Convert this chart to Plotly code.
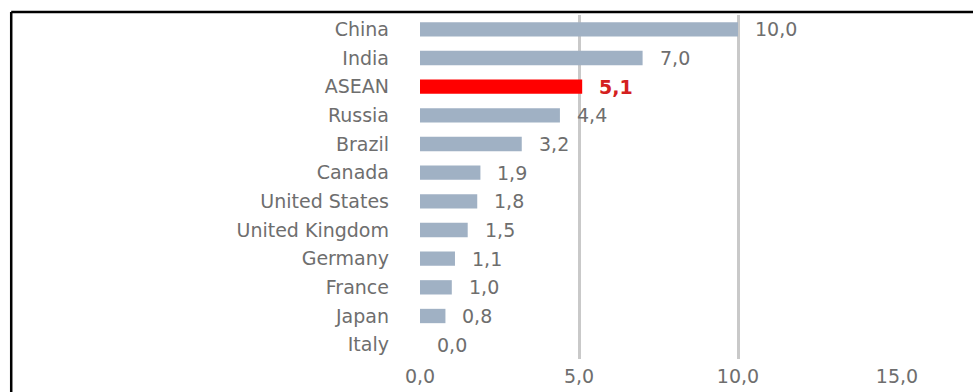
import plotly.graph_objects as go

# Growth by economy (values shown with decimal comma)
countries = ["China", "India", "ASEAN", "Russia", "Brazil", "Canada",
             "United States", "United Kingdom", "Germany", "France", "Japan", "Italy"]
values = [10.0, 7.0, 5.1, 4.4, 3.2, 1.9, 1.8, 1.5, 1.1, 1.0, 0.8, 0.0]
highlight = "ASEAN"
x_ticks = [0, 5, 10, 15]

BAR = "#a0b1c4"
RED = "#ff0000"
TEXT = "#6e6e6e"
GRID = "#c9c9c9"
FONT = "DejaVu Sans"
FS = 19

colors = [RED if c == highlight else BAR for c in countries]

fig = go.Figure(go.Bar(
    x=values, y=countries, orientation="h",
    marker=dict(color=colors, line=dict(width=0)),
    width=0.5, hoverinfo="skip",
))

def fmt(v):
    return f"{v:.1f}".replace(".", ",")

for c, v in zip(countries, values):
    hot = c == highlight
    fig.add_annotation(
        x=v, y=c, xref="x", yref="y", text=fmt(v), showarrow=False,
        xanchor="left", yanchor="middle", xshift=15,
        font=dict(family=FONT, size=FS, color="#d42020" if hot else TEXT,
                  weight="bold" if hot else "normal"),
    )

# Outer frame (top and left edges visible)
fig.add_shape(type="line", xref="paper", yref="paper",
              x0=-0.857, x1=1.2, y0=1.0087, y1=1.0087,
              line=dict(color="black", width=2.5))
fig.add_shape(type="line", xref="paper", yref="paper",
              x0=-0.857, x1=-0.857, y0=1.0087, y1=-0.2,
              line=dict(color="black", width=2.5))

fig.update_layout(
    width=973, height=392,
    margin=dict(l=420, r=76, t=15, b=33, autoexpand=False),
    paper_bgcolor="white", plot_bgcolor="white",
    showlegend=False, separators=",.",
    font=dict(family=FONT, size=FS, color=TEXT),
    xaxis=dict(range=[0, 15], tickvals=x_ticks, tickformat=".1f",
               showgrid=True, gridcolor=GRID, gridwidth=2.5,
               zeroline=False, showline=False, ticks="",
               ticklabelstandoff=4, automargin=False, fixedrange=True),
    yaxis=dict(categoryorder="array", categoryarray=countries,
               autorange="reversed", showgrid=False, zeroline=False,
               showline=False, ticks="", ticklabelstandoff=30,
               automargin=False, fixedrange=True),
)

fig.write_html("out.html")
